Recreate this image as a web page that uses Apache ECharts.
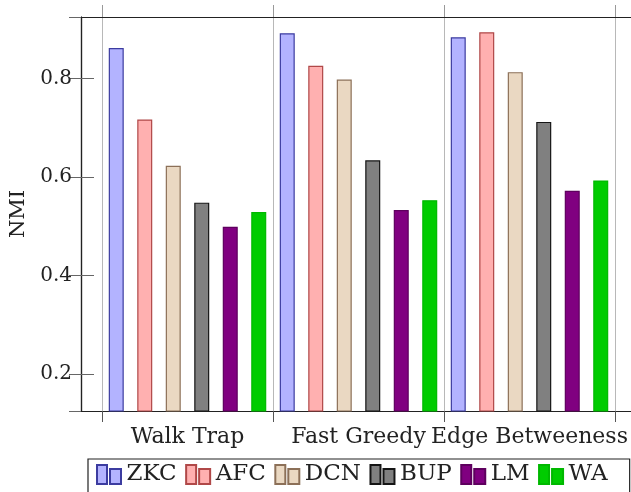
<!DOCTYPE html>
<html><head><meta charset="utf-8">
<script src="https://cdn.jsdelivr.net/npm/echarts@6/dist/echarts.min.js"></script>
<style>html,body{margin:0;padding:0;background:#fff}#c{width:631px;height:492px}</style>
</head><body><div id="c"></div>
<script>
const categories = ['Walk Trap', 'Fast Greedy', 'Edge Betweeness'];
const seriesNames = ['ZKC', 'AFC', 'DCN', 'BUP', 'LM', 'WA'];
const ZKC = [0.862, 0.892, 0.884];
const AFC = [0.717, 0.826, 0.894];
const DCN = [0.623, 0.798, 0.813];
const BUP = [0.548, 0.634, 0.712];
const LM  = [0.499, 0.533, 0.572];
const WA  = [0.529, 0.553, 0.593];
const yTicks = [0.2, 0.4, 0.6, 0.8];
const yMin = 0.125, yMax = 0.925;

const fills = ['#b3b3ff', '#ffb0b0', '#ead8c2', '#808080', '#800080', '#00cc00'];
const borders = ['#3c3ca0', '#b04848', '#8c7058', '#151515', '#5e005e', '#00b800'];
const values = [ZKC, AFC, DCN, BUP, LM, WA];
const font = 'DejaVu Serif';

const chart = echarts.init(document.getElementById('c'), null, {renderer: 'canvas'});
const fmt = v => {
  for (const t of yTicks) if (Math.abs(v - t) < 1e-6) return t.toFixed(1);
  return '';
};
chart.setOption({
  animation: false,
  backgroundColor: '#fff',
  grid: [
    {left: 81, right: -4, top: 17, bottom: 81, containLabel: false},
    {left: 102, right: 16, top: 17, bottom: 81, containLabel: false}
  ],
  xAxis: [
    {type: 'value', gridIndex: 0, position: 'bottom', min: 0, max: 1,
     axisLine: {show: true, lineStyle: {color: '#222', width: 1.2}}, axisTick: {show: false},
     axisLabel: {show: false}, splitLine: {show: false}},
    {type: 'value', gridIndex: 0, position: 'top', min: 0, max: 1,
     axisLine: {show: true, lineStyle: {color: '#222', width: 1.2}}, axisTick: {show: false},
     axisLabel: {show: false}, splitLine: {show: false}},
    {type: 'category', gridIndex: 1, position: 'bottom', data: categories,
     axisLine: {show: false},
     axisTick: {show: true, length: 11, lineStyle: {color: '#555', width: 1}},
     axisLabel: {fontFamily: font, fontSize: 22, color: '#222', margin: 15, interval: 0, hideOverlap: false},
     splitLine: {show: true, lineStyle: {color: '#b8b8b8', width: 1}}},
    {type: 'category', gridIndex: 1, position: 'top', data: categories,
     axisLine: {show: false},
     axisTick: {show: true, length: 12, lineStyle: {color: '#999', width: 1}},
     axisLabel: {show: false}, splitLine: {show: false}}
  ],
  yAxis: [
    {type: 'value', gridIndex: 0, position: 'left', min: yMin, max: yMax, splitNumber: 4,
     name: 'NMI', nameLocation: 'middle', nameGap: 45, nameRotate: 90,
     nameTextStyle: {fontFamily: font, fontSize: 21, color: '#222'},
     axisLine: {show: true, lineStyle: {color: '#222', width: 1.2}},
     axisTick: {show: true, inside: true, length: 13, lineStyle: {color: '#666'}},
     axisLabel: {fontFamily: font, fontSize: 20, color: '#222', margin: 9, formatter: fmt,
                 showMinLabel: false, showMaxLabel: false},
     splitLine: {show: false}},
    {type: 'value', gridIndex: 0, position: 'right', min: yMin, max: yMax, splitNumber: 4,
     axisLine: {show: true, lineStyle: {color: '#222', width: 1.2}},
     axisTick: {show: true, inside: true, length: 12, lineStyle: {color: '#666'}},
     axisLabel: {show: false}, splitLine: {show: false}},
    {type: 'value', gridIndex: 1, min: yMin, max: yMax, show: false}
  ],
  legend: {
    left: 88, top: 459,
    orient: 'horizontal',
    borderColor: '#222', borderWidth: 1.2, borderRadius: 0,
    padding: [4, 22, 16, 8],
    itemWidth: 25, itemHeight: 19, itemGap: 8.5,
    icon: 'path://M0,0H10V19H0Z M13,4H24V19H13Z',
    textStyle: {fontFamily: font, fontSize: 23, color: '#222'},
    data: seriesNames
  },
  series: seriesNames.map((n, i) => ({
    name: n, type: 'bar', xAxisIndex: 2, yAxisIndex: 2,
    data: values[i], barWidth: 15, barGap: '90%',
    itemStyle: {color: fills[i], borderColor: borders[i], borderWidth: 1.2}
  }))
});
</script></body></html>
